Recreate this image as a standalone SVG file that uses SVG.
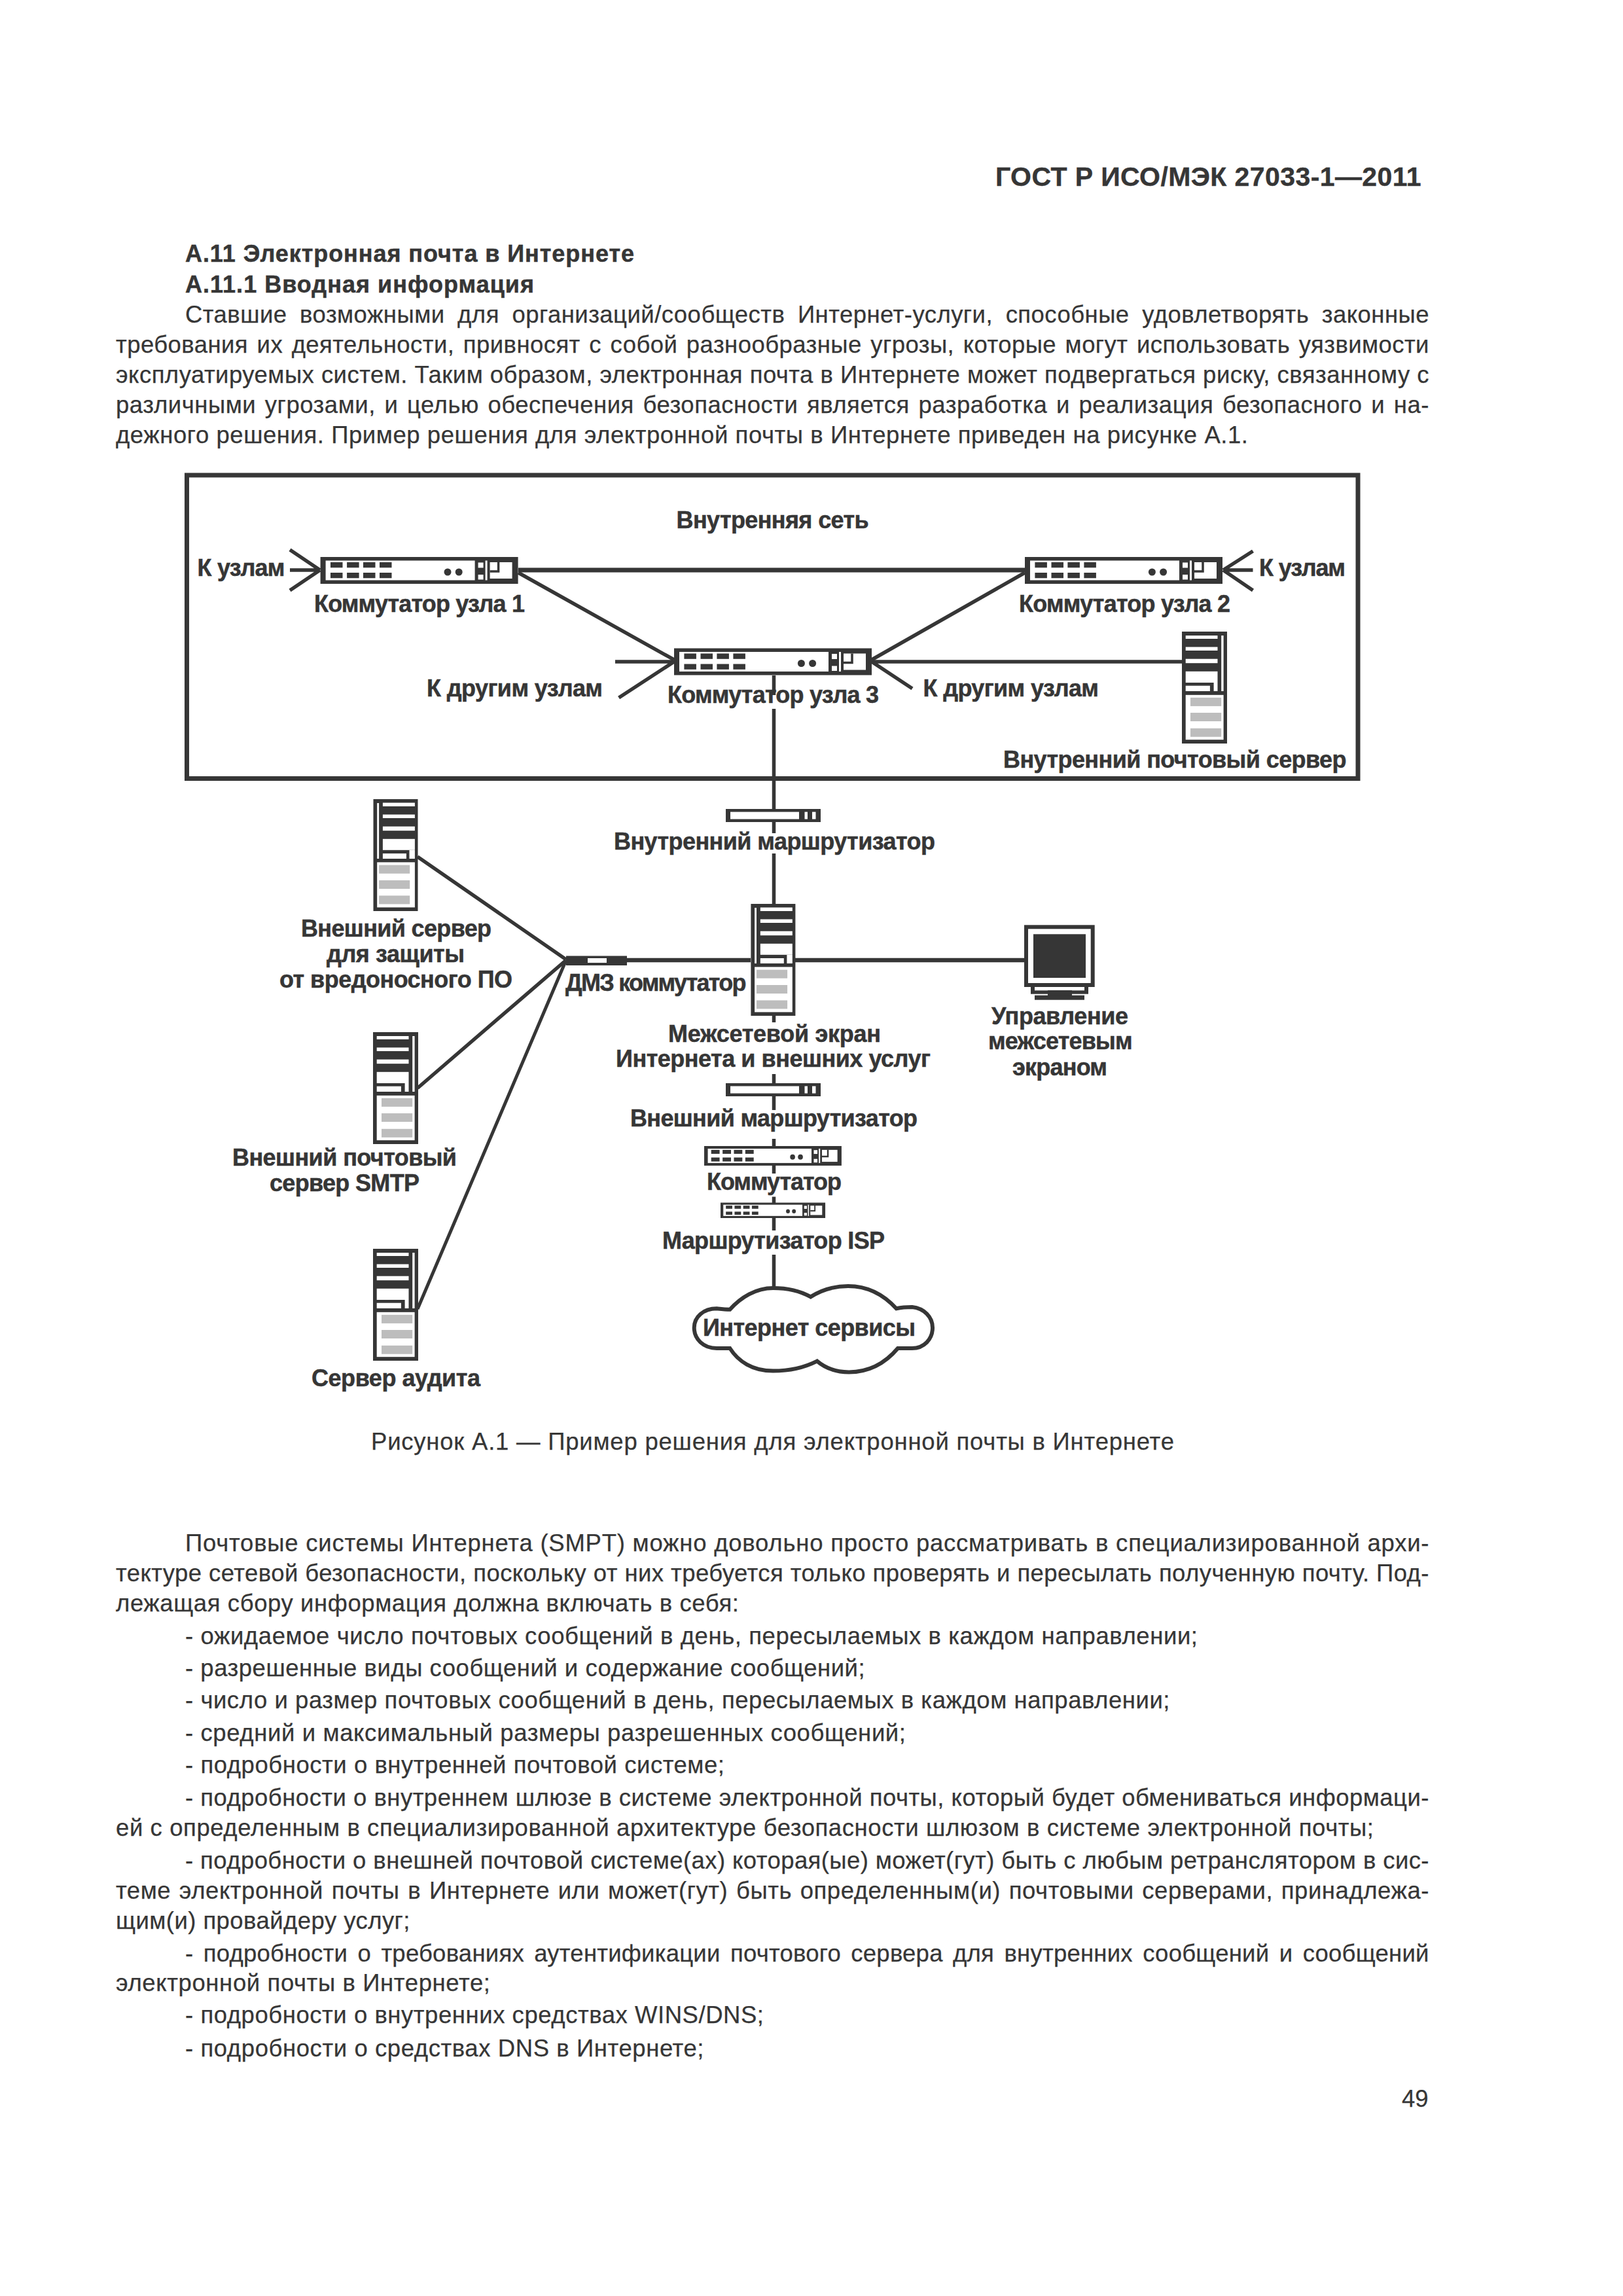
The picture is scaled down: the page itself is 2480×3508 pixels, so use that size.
<svg xmlns="http://www.w3.org/2000/svg" xmlns:xlink="http://www.w3.org/1999/xlink" width="2480" height="3508" viewBox="0 0 2480 3508">
<style>
text{font-family:"Liberation Sans",Arial,sans-serif;fill:#363636}
.b{font-weight:700;font-size:36px;stroke:#363636;stroke-width:.5}
.h{font-weight:700;font-size:41px;stroke:#363636;stroke-width:.4}
.t{font-size:36.5px;stroke:#363636;stroke-width:.25}
.d{fill:#363636}.w{fill:#fff}.g{fill:#bdbdbd}
.c{stroke:#363636;fill:none;stroke-width:5.5}
.m{stroke:#363636;fill:none;stroke-width:7}
</style>
<defs>
<g id="sw">
<rect class="d" width="302" height="41"/>
<rect class="w" x="8" y="5.5" width="228" height="30"/>
<g class="d"><rect x="15.4" y="8" width="18.5" height="8.3"/><rect x="40.5" y="8" width="18.5" height="8.3"/><rect x="65.4" y="8" width="18.5" height="8.3"/><rect x="90.4" y="8" width="18.5" height="8.3"/>
<rect x="15.4" y="24" width="18.5" height="8.3"/><rect x="40.5" y="24" width="18.5" height="8.3"/><rect x="65.4" y="24" width="18.5" height="8.3"/><rect x="90.4" y="24" width="18.5" height="8.3"/>
<ellipse cx="194.4" cy="23" rx="5.5" ry="5.5"/><ellipse cx="211.6" cy="23" rx="5.5" ry="5.5"/></g>
<rect class="w" x="241" y="8.5" width="8" height="8"/><rect class="w" x="241" y="27" width="8" height="7.5"/>
<rect class="w" x="252" y="5.5" width="3" height="30"/>
<rect class="w" x="259" y="8" width="34" height="25"/>
<path d="M259 22H272V8" fill="none" stroke="#363636" stroke-width="3.5"/>
</g>
<g id="rt">
<rect class="d" width="145" height="20"/>
<rect class="w" x="7" y="4.5" width="105" height="11"/>
<rect class="w" x="120.5" y="4.5" width="4.5" height="11"/><rect class="w" x="132" y="4.5" width="5.5" height="11"/>
</g>
<g id="srvR">
<rect class="d" width="69" height="171"/>
<g class="w"><rect x="5.7" y="6" width="48.8" height="5"/><rect x="5.7" y="23.5" width="48.8" height="5.5"/><rect x="5.7" y="41.7" width="48.8" height="6.5"/>
<rect x="5.7" y="60.8" width="48.8" height="17.2"/><rect x="48.6" y="78" width="5.9" height="13"/><rect x="5.7" y="82.7" width="37.2" height="8.3"/>
<rect x="60.2" y="6" width="3.4" height="85"/><rect x="5.7" y="96.8" width="57.9" height="68.4"/></g>
<g class="g"><rect x="13" y="100.9" width="47.2" height="13"/><rect x="13" y="124" width="47.2" height="13"/><rect x="13" y="147.8" width="47.2" height="13"/></g>
</g>
<g id="srvL">
<rect class="d" width="68" height="171"/>
<g class="w"><rect x="5.7" y="6" width="2.9" height="85"/><rect x="14.4" y="5.5" width="49" height="5.5"/><rect x="14.4" y="23.5" width="49" height="5.5"/><rect x="14.4" y="41.7" width="49" height="6.5"/>
<rect x="14.4" y="60.8" width="49" height="17"/><rect x="55" y="78" width="8.4" height="13"/><rect x="14.4" y="83" width="36" height="8"/>
<rect x="5.7" y="96.4" width="57.7" height="69"/></g>
<g class="g"><rect x="8.6" y="100.7" width="47.1" height="13"/><rect x="8.6" y="124" width="47.1" height="13"/><rect x="8.6" y="147.4" width="47.1" height="13"/></g>
</g>
</defs>
<rect width="2480" height="3508" fill="#fff"/>

<g id="page-text">
<text class="h" x="1521" y="284" textLength="650.5">ГОСТ Р ИСО/МЭК 27033-1—2011</text>
<text class="b" x="283" y="400" textLength="686">А.11 Электронная почта в Интернете</text>
<text class="b" x="283" y="447" textLength="533">А.11.1 Вводная информация</text>
<text class="t" x="283" y="493" textLength="1900.5" word-spacing="9">Ставшие возможными для организаций/сообществ Интернет-услуги, способные удовлетворять законные</text>
<text class="t" x="177" y="539.3" textLength="2006.5" word-spacing="3">требования их деятельности, привносят с собой разнообразные угрозы, которые могут использовать уязвимости</text>
<text class="t" x="177" y="585" textLength="2006.5">эксплуатируемых систем. Таким образом, электронная почта в Интернете может подвергаться риску, связанному с</text>
<text class="t" x="177" y="630.7" textLength="2006.5" word-spacing="3">различными угрозами, и целью обеспечения безопасности является разработка и реализация безопасного и на-</text>
<text class="t" x="177" y="676.7" textLength="1730">дежного решения. Пример решения для электронной почты в Интернете приведен на рисунке А.1.</text>
<text class="t" x="567" y="2215" textLength="1227">Рисунок  А.1 — Пример решения для электронной почты в Интернете</text>
<text class="t" x="283" y="2370" textLength="1900.5">Почтовые системы Интернета (SMPT) можно довольно просто рассматривать в специализированной архи-</text>
<text class="t" x="177" y="2416.4" textLength="2006.5">тектуре сетевой безопасности, поскольку от них требуется только проверять и пересылать полученную почту. Под-</text>
<text class="t" x="177" y="2462" textLength="952">лежащая сбору информация должна включать в себя:</text>
<text class="t" x="283" y="2512" textLength="1547">- ожидаемое число почтовых сообщений в день, пересылаемых в каждом направлении;</text>
<text class="t" x="283" y="2561" textLength="1038.6">- разрешенные виды сообщений и содержание сообщений;</text>
<text class="t" x="283" y="2610" textLength="1504.5">- число и размер почтовых сообщений в день, пересылаемых в каждом направлении;</text>
<text class="t" x="283" y="2660" textLength="1101">- средний и максимальный размеры разрешенных сообщений;</text>
<text class="t" x="283" y="2708.6" textLength="824">- подробности о внутренней почтовой системе;</text>
<text class="t" x="283" y="2758.6" textLength="1900.5">- подробности о внутреннем шлюзе в системе электронной почты, который будет обмениваться информаци-</text>
<text class="t" x="177" y="2805" textLength="1922">ей с определенным в специализированной архитектуре безопасности шлюзом в системе электронной почты;</text>
<text class="t" x="283" y="2855" textLength="1900.5">- подробности о внешней почтовой системе(ах) которая(ые) может(гут) быть с любым ретранслятором в сис-</text>
<text class="t" x="177" y="2900.7" textLength="2006.5" word-spacing="2">теме электронной почты в Интернете или может(гут) быть определенным(и) почтовыми серверами, принадлежа-</text>
<text class="t" x="177" y="2947" textLength="449.5">щим(и) провайдеру услуг;</text>
<text class="t" x="283" y="2997" textLength="1900.5" word-spacing="5">- подробности о требованиях аутентификации почтового сервера для внутренних сообщений и сообщений</text>
<text class="t" x="177" y="3042" textLength="572">электронной почты в Интернете;</text>
<text class="t" x="283" y="3091" textLength="884">- подробности о внутренних средствах WINS/DNS;</text>
<text class="t" x="283" y="3142" textLength="792.5">- подробности о средствах DNS в Интернете;</text>
<text class="t" x="2142" y="3219">49</text>
</g>

<g id="connectors">
<path class="m" d="M792 871H1566"/>
<path class="c" d="M792 875L1030 1008M1566 875L1332 1008"/>
<path class="c" d="M489 871H443M489 871L443 840M489 871L443 902"/>
<path class="c" d="M1869 871H1914.5M1869 871L1914.5 842M1869 871L1914.5 902"/>
<path class="c" d="M1030 1011H940M1030 1011L945.6 1066"/>
<path class="c" d="M1332 1011H1808M1332 1011L1394 1052"/>
<path class="c" d="M1182.5 1032V1062M1182.5 1083V1273M1182.5 1304V1382M1182.5 1552V1562M1182.5 1641V1696M1182.5 1740V1793M1182.5 1828.6V1880M1182.5 1917V1966"/>
<path class="c" d="M638 1309L865 1466M638 1662.5L865 1467"/>
<path class="c" style="stroke-width:5" d="M638 2000L865 1467"/>
<path class="m" style="stroke-width:6.5" d="M958 1467H1147M1215 1467H1566"/>
</g>

<g id="frame"><rect class="m" x="285.5" y="726" width="1789.5" height="463.5"/><text class="b" x="1033.6" y="807" textLength="294">Внутренняя сеть</text></g>

<g id="sw1"><use href="#sw" xlink:href="#sw" transform="translate(489.6 851)"/>
<text class="b" x="480" y="935" textLength="322">Коммутатор узла 1</text>
<text class="b" x="301.5" y="880" textLength="134">К узлам</text></g>
<g id="sw2"><use href="#sw" xlink:href="#sw" transform="translate(1566 851)"/>
<text class="b" x="1557" y="935" textLength="323">Коммутатор узла 2</text>
<text class="b" x="1924" y="880" textLength="132">К узлам</text></g>
<g id="sw3"><use href="#sw" xlink:href="#sw" transform="translate(1030 990.5)"/>
<text class="b" x="1020" y="1074" textLength="323">Коммутатор узла 3</text>
<text class="b" x="652" y="1064" textLength="269">К другим узлам</text>
<text class="b" x="1410.5" y="1064" textLength="268.5">К другим узлам</text></g>
<g id="mail-internal"><use href="#srvR" xlink:href="#srvR" transform="translate(1806 965)"/>
<text class="b" x="1533" y="1172.7" textLength="524.5">Внутренний почтовый сервер</text></g>
<g id="router-int"><use href="#rt" xlink:href="#rt" transform="translate(1109 1236)"/>
<text class="b" x="938" y="1298" textLength="491">Внутренний маршрутизатор</text></g>
<g id="malware"><use href="#srvL" xlink:href="#srvL" transform="translate(570.5 1221)"/>
<text class="b" x="460" y="1431" textLength="291">Внешний сервер</text>
<text class="b" x="499" y="1470" textLength="211">для защиты</text>
<text class="b" x="427" y="1509" textLength="356">от вредоносного ПО</text></g>
<g id="smtp"><use href="#srvR" xlink:href="#srvR" transform="translate(570 1577)"/>
<text class="b" x="355" y="1781" textLength="343">Внешний почтовый</text>
<text class="b" x="412" y="1819.5" textLength="229">сервер SMTP</text></g>
<g id="audit"><use href="#srvR" xlink:href="#srvR" transform="translate(570 1908)"/>
<text class="b" x="476" y="2118" textLength="258">Сервер аудита</text></g>
<g id="dmz"><rect class="d" x="865" y="1460.5" width="93" height="14.5"/><rect class="w" x="898" y="1464" width="29" height="7"/>
<text class="b" x="864" y="1514" textLength="276.5">ДМЗ коммутатор</text></g>
<g id="firewall"><use href="#srvL" xlink:href="#srvL" transform="translate(1147.4 1381)"/>
<text class="b" x="1021" y="1592" textLength="325">Межсетевой экран</text>
<text class="b" x="941" y="1630" textLength="481">Интернета и внешних услуг</text></g>
<g id="monitor"><rect class="d" x="1565" y="1413.3" width="107.7" height="94.7"/><rect class="w" x="1571" y="1419.3" width="95.7" height="82.7"/><rect class="d" x="1579" y="1427.3" width="80" height="66.7"/>
<rect class="d" x="1575" y="1508" width="88" height="10.7"/><rect class="w" x="1581" y="1508" width="76" height="5.3"/><rect class="d" x="1601" y="1513" width="37" height="8"/><rect class="d" x="1581" y="1520.7" width="76" height="7"/>
<text class="b" x="1515" y="1565" textLength="209">Управление</text>
<text class="b" x="1510" y="1603" textLength="220.7">межсетевым</text>
<text class="b" x="1547" y="1643" textLength="145">экраном</text></g>
<g id="router-ext"><use href="#rt" xlink:href="#rt" transform="translate(1109 1655)"/>
<text class="b" x="963" y="1721" textLength="439">Внешний маршрутизатор</text></g>
<g id="switch"><use href="#sw" xlink:href="#sw" transform="translate(1076 1751) scale(.695 .73)"/>
<text class="b" x="1080" y="1818" textLength="206">Коммутатор</text></g>
<g id="isp"><use href="#sw" xlink:href="#sw" transform="translate(1101 1837.5) scale(.53 .573)"/>
<text class="b" x="1012" y="1908" textLength="340">Маршрутизатор ISP</text></g>
<g id="cloud"><path d="M1115.3 2000.7C1132 1982 1155 1967.9 1181.3 1967.9C1205 1967.9 1222 1972 1238.7 1981.4C1255 1971 1275 1965 1296 1965C1328 1965 1352 1980 1369.6 1999.3C1378 1997.5 1385 1997 1393.7 1997C1412 1999 1425 2012 1425 2028.6C1425 2046 1412 2060 1393.7 2060H1371.9C1355 2080 1330 2096.4 1297.2 2096.4C1278 2096.4 1262 2091 1248.5 2079.6C1230 2089 1208 2094.6 1181.3 2094.6C1150 2094.6 1128 2080 1115.3 2060H1095.2C1075 2060 1060.7 2046 1060.7 2028.6C1060.7 2012 1075 1999.3 1095.2 1999.3C1102 2000 1108 2000.7 1115.3 2000.7Z" fill="#fff" stroke="#363636" stroke-width="6"/>
<text class="b" x="1074" y="2041" textLength="325">Интернет сервисы</text></g>
</svg>
